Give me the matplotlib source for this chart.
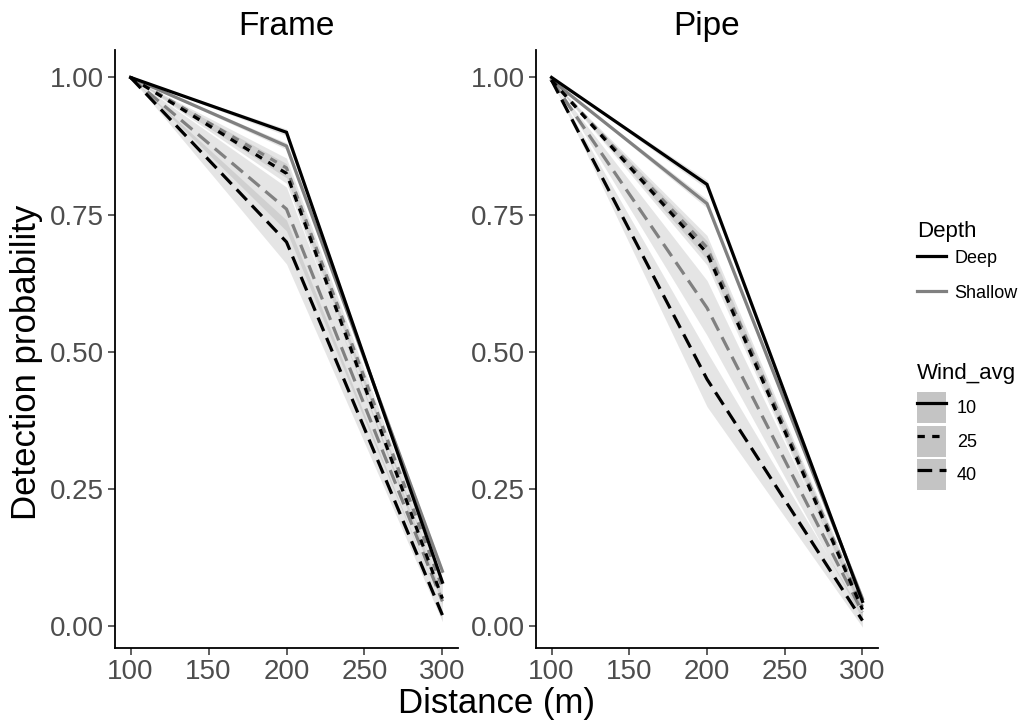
import numpy as np
import matplotlib
matplotlib.use("Agg")
import matplotlib.pyplot as plt
from matplotlib.lines import Line2D
from matplotlib.patches import Patch

plt.rcParams['font.family'] = ['Liberation Sans', 'DejaVu Sans']

# --- data ---
distance = [100, 200, 300]
panels = ["Frame", "Pipe"]
depths = ["Shallow", "Deep"]
winds = ["10", "25", "40"]

# detection probability per (depth, wind)
frame_prob = {
    ("Shallow", "10"): [1.00, 0.875, 0.100],
    ("Shallow", "25"): [1.00, 0.835, 0.070],
    ("Shallow", "40"): [1.00, 0.760, 0.045],
    ("Deep", "10"): [1.00, 0.900, 0.080],
    ("Deep", "25"): [1.00, 0.825, 0.050],
    ("Deep", "40"): [1.00, 0.700, 0.020],
}
pipe_prob = {
    ("Shallow", "10"): [0.995, 0.770, 0.050],
    ("Shallow", "25"): [0.995, 0.690, 0.035],
    ("Shallow", "40"): [0.995, 0.580, 0.025],
    ("Deep", "10"): [1.000, 0.805, 0.045],
    ("Deep", "25"): [0.995, 0.680, 0.030],
    ("Deep", "40"): [0.995, 0.450, 0.010],
}
# half-width of the confidence band, by wind
frame_ci = {"10": [0.0, 0.006, 0.006], "25": [0.0, 0.018, 0.010], "40": [0.0, 0.040, 0.012]}
pipe_ci = {"10": [0.0, 0.008, 0.006], "25": [0.0, 0.022, 0.008], "40": [0.0, 0.050, 0.012]}

depth_colors = {"Deep": "black", "Shallow": "#808080"}
wind_dashes = {"10": None, "25": (2.3, 2.3), "40": (4.6, 2.3)}

W, H = 1024, 723
fig = plt.figure(figsize=(W / 100, H / 100), dpi=100)

axes_px = [(115, 458), (536, 878)]
top_px, bot_px = 50, 648
lw = 2.3

for (l, r), name, prob, ci in zip(axes_px, panels, [frame_prob, pipe_prob], [frame_ci, pipe_ci]):
    ax = fig.add_axes([l / W, 1 - bot_px / H, (r - l) / W, (bot_px - top_px) / H])
    x = np.array(distance)
    # ribbons first
    for d in depths:
        for w in winds:
            y = np.array(prob[(d, w)])
            h = np.array(ci[w])
            ax.fill_between(x, y - h, np.minimum(y + h, 1.0), color="grey", alpha=0.2, lw=0)
    for d in depths:
        for w in winds:
            line, = ax.plot(x, prob[(d, w)], color=depth_colors[d], lw=lw,
                            solid_joinstyle="miter", dash_capstyle="butt")
            if wind_dashes[w] is not None:
                line.set_dashes(wind_dashes[w])
    ax.set_xlim(90, 310)
    ax.set_ylim(-0.04, 1.05)
    ax.set_xticks([100, 150, 200, 250, 300])
    ax.set_yticks([0, 0.25, 0.5, 0.75, 1.0])
    ax.set_yticklabels(["0.00", "0.25", "0.50", "0.75", "1.00"])
    for s in ["top", "right"]:
        ax.spines[s].set_visible(False)
    for s in ["left", "bottom"]:
        ax.spines[s].set_linewidth(1.3)
    ax.tick_params(labelsize=20, colors="#333333", labelcolor="#4d4d4d", length=5, width=1.1, pad=3)
    ax.set_title(name, fontsize=24, pad=11)

fig.text(27 / W, 1 - 362 / H, "Detection probability", rotation=90, fontsize=25,
         ha="center", va="center")
fig.text(497 / W, 1 - 703 / H, "Distance (m)", fontsize=25, ha="center", va="center")

# legends
depth_handles = [Line2D([], [], color=depth_colors[d], lw=lw) for d in ["Deep", "Shallow"]]
leg1 = fig.legend(depth_handles, ["Deep", "Shallow"], title="Depth", loc="upper left",
                  bbox_to_anchor=(917 / W, 1 - 221 / H), frameon=False, fontsize=13,
                  title_fontsize=16, handlelength=1.6, handleheight=1.1, labelspacing=0.9,
                  handletextpad=0.45, borderaxespad=0, borderpad=0)
leg1._legend_box.align = "left"
leg1._legend_box.sep = 4.7  # tighter gap under the title

wind_handles = []
for w in winds:
    ln = Line2D([], [], color="black", lw=lw)
    if wind_dashes[w] is not None:
        ln.set_dashes(wind_dashes[w])
    wind_handles.append((Patch(facecolor="#c4c4c4", edgecolor="none"), ln))
leg2 = fig.legend(wind_handles, winds, title="Wind_avg", loc="upper left",
                  bbox_to_anchor=(917 / W, 1 - 363 / H), frameon=False, fontsize=13,
                  title_fontsize=16, handlelength=1.6, handleheight=2.25, labelspacing=0.15,
                  handletextpad=0.6, borderaxespad=0, borderpad=0)
leg2._legend_box.align = "left"
leg2._legend_box.sep = 6.0

fig.savefig("out.png", dpi=100)
